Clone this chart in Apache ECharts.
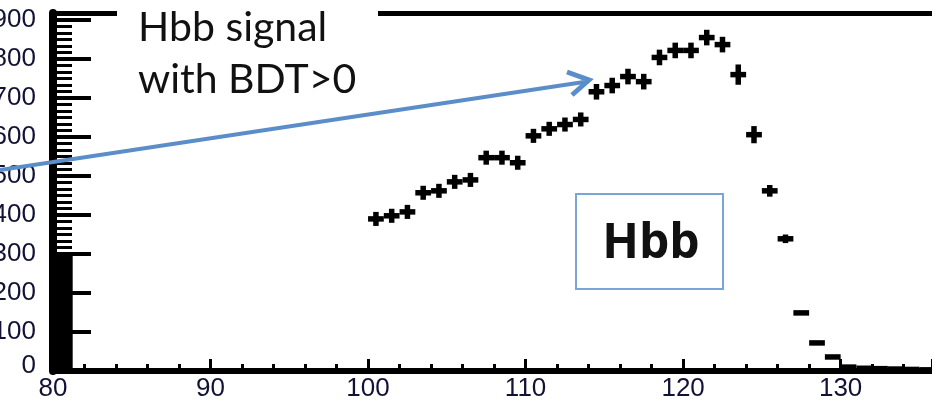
<!DOCTYPE html>
<html>
<head>
<meta charset="utf-8">
<script src="https://cdn.jsdelivr.net/npm/echarts@6/dist/echarts.min.js"></script>
<style>
html,body{margin:0;padding:0;background:#fff;}
#c{width:932px;height:405px;}
</style>
</head>
<body>
<div id="c"></div>
<script>
// ---- data ----
const binCenters = [100.5,101.5,102.5,103.5,104.5,105.5,106.5,107.5,108.5,109.5,
  110.5,111.5,112.5,113.5,114.5,115.5,116.5,117.5,118.5,119.5,
  120.5,121.5,122.5,123.5,124.5,125.5,126.5,127.5,128.5,129.5,
  130.5,131.5,132.5,133.5,134.5,135.5];
const binValues = [390,398,408,457,462,485,490,547,547,534,
  603,621,632,645,716,732,755,742,804,822,
  822,855,837,760,606,462,339,149,72,36,
  10,7,6,5,4,3];
const binErrors = [18,18,18,18,18,18,18,18,18,18,
  18,18,18,18,20,20,20,20,20,20,
  20,20,20,26,22,15,11,1,4,0,
  0,0,0,0,0,0];
const binWidth = 1;
const xTickLabels = ['80','90','100','110','120','130'];
const yTickLabels = ['0','100','200','300','400','500','600','700','800','900'];
const xRange = [80, 135.8];
const yRange = [0, 918];
const denseTickBand = [[80, 0], [81.25, 300]];

const textColor = '#121236';
const labelFont = 'Arial, "Liberation Sans", sans-serif';
const seriesData = binCenters.map((x, i) => [x, binValues[i], binErrors[i]]);

const chart = echarts.init(document.getElementById('c'), null, {renderer: 'canvas'});

const option = {
  animation: false,
  backgroundColor: '#fff',
  grid: {left: 53, right: 0, top: 13, bottom: 34, containLabel: false, outerBoundsMode: 'none'},
  xAxis: [{
    type: 'value', min: xRange[0], max: xRange[1], interval: 10,
    axisLine: {show: true, onZero: false, lineStyle: {color: '#000', width: 6}},
    axisTick: {show: true, inside: true, length: 12, lineStyle: {color: '#000', width: 3}},
    minorTick: {show: true, splitNumber: 5, length: 7, lineStyle: {color: '#000', width: 3}},
    splitLine: {show: false}, minorSplitLine: {show: false},
    axisLabel: {
      fontSize: 26, fontFamily: labelFont, color: textColor, margin: 5,
      formatter: v => xTickLabels.includes(String(v)) ? String(v) : ''
    }
  }, {
    type: 'value', position: 'top', min: xRange[0], max: xRange[1],
    axisLine: {show: true, onZero: false, lineStyle: {color: '#000', width: 5}},
    axisTick: {show: false}, axisLabel: {show: false}, splitLine: {show: false}
  }],
  yAxis: {
    type: 'value', min: yRange[0], max: yRange[1], interval: 100,
    axisLine: {show: true, onZero: false, lineStyle: {color: '#000', width: 8}},
    axisTick: {show: true, inside: true, length: 38, lineStyle: {color: '#000', width: 4}},
    minorTick: {show: true, splitNumber: 6, length: 19, lineStyle: {color: '#000', width: 3}},
    splitLine: {show: false}, minorSplitLine: {show: false},
    axisLabel: {
      fontSize: 26, fontFamily: labelFont, color: textColor, margin: 17,
      formatter: v => yTickLabels.includes(String(v)) ? (v === 0 ? '{z|0}' : String(v)) : '',
      rich: {z: {fontSize: 26, fontFamily: labelFont, color: textColor, padding: [0, 0, 10, 0]}}
    }
  },
  series: [{
    type: 'custom',
    clip: false,
    data: seriesData,
    renderItem: function (params, api) {
      const x = api.value(0), y = api.value(1), e = api.value(2);
      const L = api.coord([x - binWidth / 2, y]);
      const R = api.coord([x + binWidth / 2, y]);
      const children = [{
        type: 'line', shape: {x1: L[0], y1: L[1], x2: R[0], y2: R[1]},
        style: {stroke: '#000', lineWidth: 5.5}
      }];
      if (e > 0) {
        const T = api.coord([x, y + e]);
        const B = api.coord([x, y - e]);
        children.push({
          type: 'line', shape: {x1: T[0], y1: T[1], x2: B[0], y2: B[1]},
          style: {stroke: '#000', lineWidth: 5.5}
        });
      }
      return {type: 'group', children: children};
    },
    markArea: {
      silent: true,
      itemStyle: {color: '#000'},
      data: [[{coord: denseTickBand[0]}, {coord: denseTickBand[1]}]]
    }
  }],
  graphic: [
    {type: 'rect', z: 100, shape: {x: 117, y: 0, width: 261, height: 104}, style: {fill: '#fff'}},
    {type: 'text', z: 101, style: {x: 138, y: 28, text: 'Hbb signal', font: '41px Lato', fill: '#111', verticalAlign: 'middle'}},
    {type: 'text', z: 101, style: {x: 138, y: 80, text: 'with BDT>0', font: '41px Lato', fill: '#111', verticalAlign: 'middle'}},
    {type: 'line', z: 102, shape: {x1: 0, y1: 170, x2: 584, y2: 82}, style: {stroke: '#5b8ec9', lineWidth: 4}},
    {type: 'polyline', z: 102, shape: {points: [[567, 72], [589, 80], [572, 95]]}, style: {stroke: '#5b8ec9', lineWidth: 5, fill: null, lineJoin: 'miter'}},
    {type: 'rect', z: 100, shape: {x: 576, y: 194, width: 147, height: 95}, style: {fill: '#fff', stroke: '#7aa5d8', lineWidth: 2}},
    {type: 'text', z: 101, style: {x: 651, y: 244, text: 'Hbb', font: 'bold 48px "Open Sans"', fill: '#111', align: 'center', verticalAlign: 'middle'}}
  ]
};
chart.setOption(option);
</script>
</body>
</html>
